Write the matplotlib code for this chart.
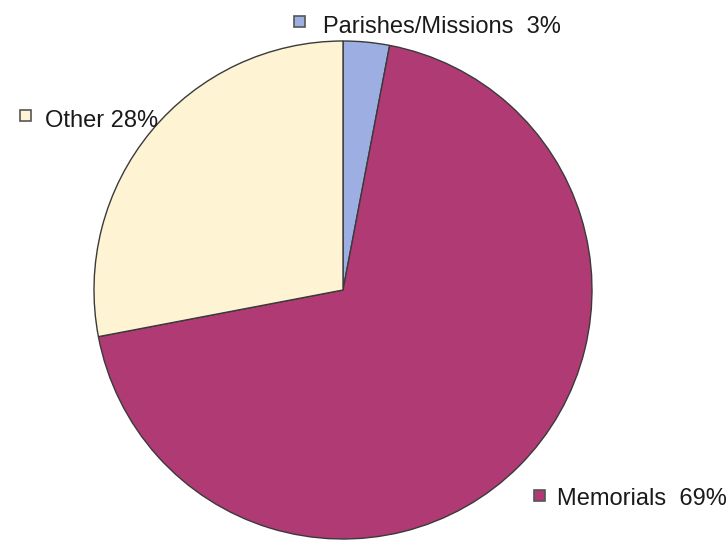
import matplotlib
matplotlib.use("Agg")
import matplotlib.pyplot as plt
from matplotlib.patches import Rectangle

categories = ["Parishes/Missions", "Memorials", "Other"]
values = [3, 69, 28]
labels = ["Parishes/Missions  3%", "Memorials  69%", "Other 28%"]

colors = ["#9DAFE2", "#B03A73", "#FEF4D4"]
W, H = 727, 542

plt.rcParams['font.family'] = ['Liberation Sans', 'DejaVu Sans']
fig = plt.figure(figsize=(W / 100, H / 100), dpi=100)
ax = fig.add_axes([0, 0, 1, 1])
ax.set_xlim(0, W)
ax.set_ylim(0, H)
ax.set_aspect('equal')
ax.axis('off')

ax.pie(values, colors=colors, startangle=90, counterclock=False,
       center=(343, H - 290), radius=249,
       wedgeprops=dict(edgecolor="#3a3a3a", linewidth=1.0))
ax.set_xlim(0, W)
ax.set_ylim(0, H)
ax.axis('off')

# label positions (pixel coords: marker center, text x, baseline y)
pos = {
    "Parishes/Missions": (299, 21, 323, 33),
    "Memorials": (539, 495, 557, 505),
    "Other": (25, 115, 45, 127),
}
for cat, lab, col in zip(categories, labels, colors):
    mx, my, tx, ty = pos[cat]
    s = 11
    ax.add_patch(Rectangle((mx - s / 2, H - my - s / 2), s, s,
                           facecolor=col, edgecolor="#555555", linewidth=1.2,
                           clip_on=False))
    ax.text(tx, H - ty, lab, fontsize=17, color="#1a1a1a",
            ha='left', va='baseline')

fig.savefig("out.png", dpi=100, facecolor="white")
